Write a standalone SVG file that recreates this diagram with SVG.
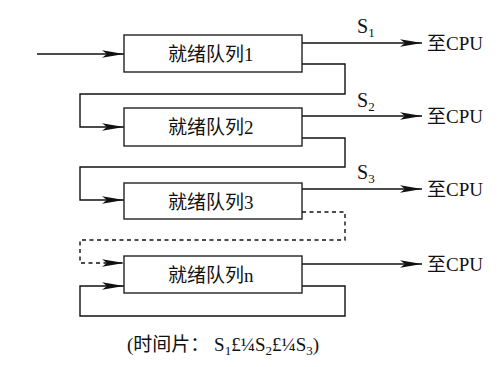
<svg xmlns="http://www.w3.org/2000/svg" width="499" height="367" viewBox="0 0 499 367">
<style>
.box{fill:#fff;stroke:#222;stroke-width:1.4}
.c{fill:none;stroke:#111;stroke-width:1.4}
.d{stroke-dasharray:4,3.5}
.t{font-family:"Liberation Serif","Noto Sans CJK SC",serif;font-size:19px;fill:#111}
.s{font-family:"Liberation Serif","Noto Sans CJK SC",serif;font-size:20px;fill:#111}
.sub{font-size:13px}
</style>
<defs>
<marker id="ah" markerUnits="userSpaceOnUse" markerWidth="24" markerHeight="10" refX="22" refY="5" orient="auto">
<path d="M0,1.3 L22,5 L0,8.7 L5,5 z" fill="#111"/>
</marker>
</defs>
<rect width="499" height="367" fill="#fff"/>
<g id="connectors">
<path class="c" d="M37,54 H124" marker-end="url(#ah)"/>
<path class="c" d="M302,43 H422" marker-end="url(#ah)"/>
<path class="c" d="M302,64 H345 V94 H80 V127 H124" marker-end="url(#ah)"/>
<path class="c" d="M302,116 H422" marker-end="url(#ah)"/>
<path class="c" d="M302,138 H345 V167 H80 V200 H124" marker-end="url(#ah)"/>
<path class="c" d="M302,189 H422" marker-end="url(#ah)"/>
<path class="c d" d="M302,212 H345 V240 H80 V263 H124" marker-end="url(#ah)"/>
<path class="c" d="M302,264 H422" marker-end="url(#ah)"/>
<path class="c" d="M302,286 H345 V316 H80 V286 H124" marker-end="url(#ah)"/>
</g>
<g id="q1"><rect class="box" x="124" y="35" width="178" height="37"/><text class="t" x="168" y="61">就绪队列1</text></g>
<g id="q2"><rect class="box" x="124" y="108" width="178" height="38"/><text class="t" x="168" y="134">就绪队列2</text></g>
<g id="q3"><rect class="box" x="124" y="183" width="178" height="36"/><text class="t" x="168" y="209">就绪队列3</text></g>
<g id="qn"><rect class="box" x="124" y="256" width="178" height="37"/><text class="t" x="168" y="282">就绪队列n</text></g>
<g id="labels">
<text class="s" x="357" y="33">S<tspan class="sub" dy="4">1</tspan></text>
<text class="s" x="357" y="107">S<tspan class="sub" dy="4">2</tspan></text>
<text class="s" x="357" y="179">S<tspan class="sub" dy="4">3</tspan></text>
<text class="t" x="427" y="50">至CPU</text>
<text class="t" x="427" y="123">至CPU</text>
<text class="t" x="427" y="196">至CPU</text>
<text class="t" x="427" y="271">至CPU</text>
</g>
<g id="caption">
<text class="t" x="127" y="351">(时间片： S<tspan class="sub" dy="4">1</tspan><tspan dy="-4">£¼S</tspan><tspan class="sub" dy="4">2</tspan><tspan dy="-4">£¼S</tspan><tspan class="sub" dy="4">3</tspan><tspan dy="-4">)</tspan></text>
</g>
</svg>
